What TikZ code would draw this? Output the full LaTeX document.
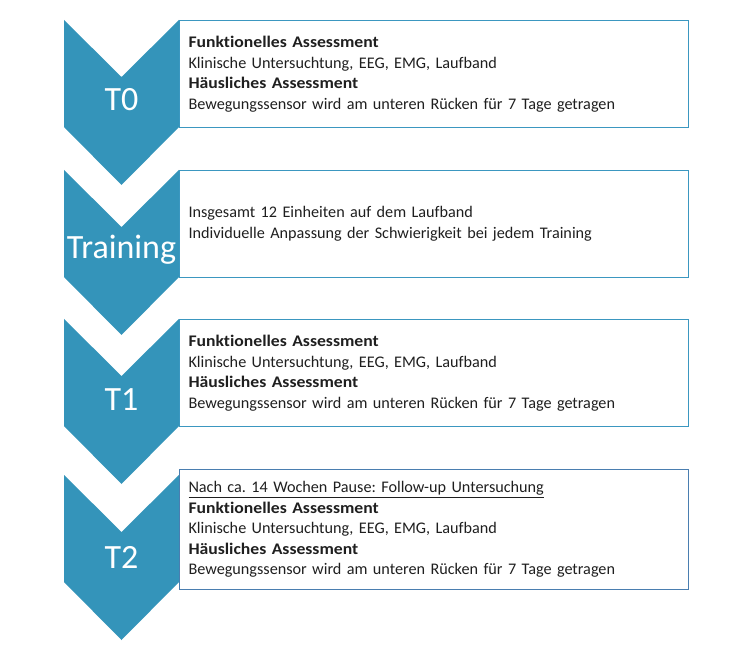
\documentclass[tikz,border=0pt]{standalone}
\usepackage{fontspec}
\setmainfont{Carlito}[Ligatures=NoCommon, BoldFeatures={FakeStretch=1.09}]
\definecolor{chevblue}{HTML}{3494BA}
\definecolor{lineblue}{HTML}{3B97C0}
\definecolor{steelblue}{HTML}{4A7EB0}
\usetikzlibrary{positioning}

\begin{document}
\frenchspacing
\begin{tikzpicture}[x=1pt, y=-1pt,
  chev/.style={fill=chevblue},
  phase/.style={text=white, font=\fontsize{34}{36}\selectfont, inner sep=0pt},
  infobox/.style={draw=lineblue, line width=1pt, anchor=north west,
    minimum width=509pt, minimum height=107pt, inner sep=0pt,
    text width=491pt, align=left,
    font=\fontsize{16.2}{20.5}\selectfont, text=black!88},
]
  \useasboundingbox (0,0) rectangle (753,660);

  % chevrons
  \foreach \y in {20,170,319,475}
    \fill[chev] (64,\y) -- (121.5,\y+57) -- (179,\y) -- (179,\y+107)
      -- (121.5,\y+165) -- (64,\y+107) -- cycle;

  \node[phase] (t0) at (121.5,100) {T0};
  \node[phase] (training) at (121.5,250) {Training};
  \node[phase] (t1) at (121.5,400) {T1};
  \node[phase] (t2) at (121.5,557) {T2};

  % boxes
  \node[infobox] (box0) at (179,20) {\textbf{Funktionelles Assessment}\\
    Klinische Untersuchtung, EEG, EMG, Laufband\\
    \textbf{Häusliches Assessment}\\
    Bewegungssensor wird am unteren Rücken für 7 Tage getragen};
  \node[infobox] (boxtraining) at (179,170) {Insgesamt 12 Einheiten auf dem Laufband\\
    Individuelle Anpassung der Schwierigkeit bei jedem Training};
  \node[infobox] (box1) at (179,319) {\textbf{Funktionelles Assessment}\\
    Klinische Untersuchtung, EEG, EMG, Laufband\\
    \textbf{Häusliches Assessment}\\
    Bewegungssensor wird am unteren Rücken für 7 Tage getragen};
  \node[infobox, draw=steelblue, minimum height=120pt] (box2) at (179,469)
    {\underline{Nach ca. 14 Wochen Pause: Follow-up Untersuchung}\\
    \textbf{Funktionelles Assessment}\\
    Klinische Untersuchtung, EEG, EMG, Laufband\\
    \textbf{Häusliches Assessment}\\
    Bewegungssensor wird am unteren Rücken für 7 Tage getragen};
\end{tikzpicture}
\end{document}
